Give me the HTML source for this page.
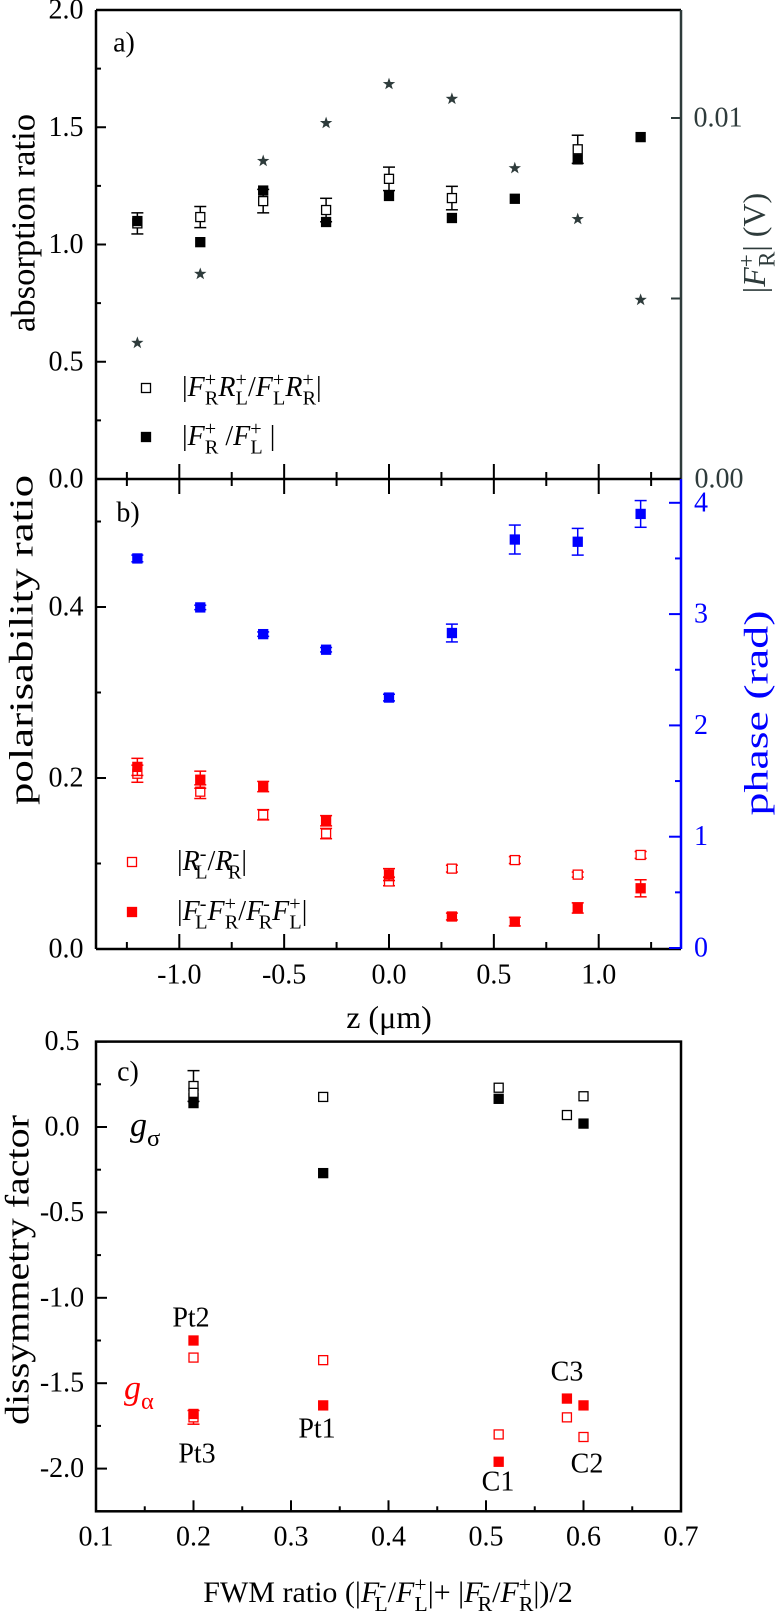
<!DOCTYPE html>
<html><head><meta charset="utf-8"><style>
html,body{margin:0;padding:0;background:#fff;}
svg, svg text, svg tspan{font-family:"Liberation Serif","Times New Roman",serif;}
</style></head><body>
<svg id="chart" width="776" height="1614" viewBox="0 0 776 1614" font-family="Liberation Serif, serif" xmlns="http://www.w3.org/2000/svg"></svg>
<script>
// ---------- data ----------
const zVals = [-1.2,-0.9,-0.6,-0.3,0,0.3,0.6,0.9,1.2];
const absOpen = [1.09,1.117,1.185,1.147,1.28,1.198,null,1.406,null];
const absOpenErr = [0.045,0.045,0.05,0.05,0.05,0.05,0,0.06,0];
const absFilled = [1.10,1.01,1.23,1.096,1.207,1.113,1.195,1.363,1.458];
const fStars = [0.00377,0.00568,0.00881,0.00986,0.01094,0.01053,0.00861,0.00720,0.00496];
const phaseVals = [3.50,3.06,2.82,2.68,2.25,2.83,3.67,3.65,3.90];
const phaseErr = [0.03,0.02,0.02,0.02,0.03,0.08,0.13,0.12,0.12];
const polFilled = [0.213,0.198,0.190,0.150,0.087,0.038,0.032,0.048,0.071];
const polFilledErr = [0.01,0.01,0.006,0.006,0.007,0.004,0.005,0.006,0.01];
const polOpen = [0.205,0.184,0.157,0.135,0.079,0.094,0.104,0.087,0.110];
const polOpenErr = [0.01,0.008,0.006,0.006,0.005,0.004,0.004,0.003,0.004];
const fwmX = [0.2,0.2,0.333,0.513,0.583,0.6];
const gSigOpen = [0.24,0.20,0.176,0.23,0.07,0.18];
const gSigFilled = [0.17,0.14,-0.27,0.165,null,0.02];
const gAlpOpen = [-1.35,-1.70,-1.365,-1.80,-1.70,-1.815];
const gAlpFilled = [-1.25,-1.68,-1.63,-1.96,-1.59,-1.63];
const sampleNames = ['Pt2','Pt3','Pt1','C1','C3','C2'];
const ticksA = ['0.0','0.5','1.0','1.5','2.0'];
const ticksB = ['0.0','0.2','0.4'];
const ticksPhase = ['0','1','2','3','4'];
const ticksC = ['-2.0','-1.5','-1.0','-0.5','0.0','0.5'];
const ticksZ = ['-1.0','-0.5','0.0','0.5','1.0'];
const ticksFwm = ['0.1','0.2','0.3','0.4','0.5','0.6','0.7'];

// ---------- scales ----------
const L=96, R=681;
const xz = z => 389 + z*209.7;
const ya = v => 479 - v*234.5;
const yaR = v => 479 - v*36100;
const yb = v => 949 - v*855;
const ybR = p => 948 - p*111.3;
const xc = v => 96 + (v-0.1)*975;
const yc = v => 1127 - v*170.8;

const svg = document.getElementById('chart');
const NS='http://www.w3.org/2000/svg';
function mk(tag, attrs, name, parent){
  const el=document.createElementNS(NS,tag);
  for(const k in attrs) el.setAttribute(k,attrs[k]);
  
  
  (parent||svg).appendChild(el);
  return el;
}
function line(x1,y1,x2,y2,stroke,w,name){return mk('line',{x1,y1,x2,y2,stroke,'stroke-width':w},name);}
function txt(x,y,s,size,opts,name){
  const t=mk('text',Object.assign({x,y,'font-size':size,'text-anchor':'middle','dominant-baseline':'central','font-family':'Liberation Serif, serif'},opts||{}),name);
  t.textContent=s; return t;
}
function sq(x,y,color,filled,name){
  return mk('rect',{x:x-4.5,y:y-4.5,width:9,height:9,fill:filled?color:'#fff',stroke:color,'stroke-width':1.3},name);
}
function err(x,y1,y2,color,name){
  const g=mk('g',{},name);
  mk('line',{x1:x,y1:y1,x2:x,y2:y2,stroke:color,'stroke-width':1.5},'error-bar-stem',g);
  mk('line',{x1:x-6,y1:y1,x2:x+6,y2:y1,stroke:color,'stroke-width':1.5},'error-bar-cap',g);
  mk('line',{x1:x-6,y1:y2,x2:x+6,y2:y2,stroke:color,'stroke-width':1.5},'error-bar-cap',g);
}
function star(x,y,color,name){
  let p=[];
  for(let i=0;i<10;i++){const r=i%2?2.6:6.5;const a=-Math.PI/2+i*Math.PI/5;p.push((x+r*Math.cos(a)).toFixed(1)+','+(y+r*Math.sin(a)).toFixed(1));}
  mk('polygon',{points:p.join(' '),fill:color},name);
}
// rich text: parts [text, style]; 'sub' after 'sup' is stacked below it
function rich(x,y,parts,size,color,anchor,name,rot){
  const attrs={x,y,'font-size':size,fill:color,'text-anchor':anchor||'start','font-family':'Liberation Serif, serif'};
  if(rot) attrs.transform=rot;
  const t=mk('text',attrs,name);
  let prevSup=false;
  parts.forEach(p=>{
    const s=document.createElementNS(NS,'tspan');
    s.textContent=p[0];
    const st=p[1]||'';
    if(st.includes('i')) s.setAttribute('font-style','italic');
    if(st.includes('sub')){
      s.setAttribute('font-size',size*0.72);
      s.setAttribute('dy',size*0.3);
      if(prevSup) s.setAttribute('dx',-size*0.4);
    } else if(st.includes('sup')){
      s.setAttribute('font-size',size*0.72);
      s.setAttribute('dy',-size*0.35);
    }
    t.appendChild(s);
    // restore baseline
    if(st.includes('sub')||st.includes('sup')){
      s.setAttribute('data-shift', st.includes('sub')?'sub':'sup');
    }
    prevSup=st.includes('sup');
  });
  // fix dy so each normal tspan returns to baseline
  let cur=0;
  Array.from(t.childNodes).forEach(s=>{
    const sh=s.getAttribute('data-shift');
    let target = sh==='sub'? size*0.3 : sh==='sup'? -size*0.35 : 0;
    s.setAttribute('dy', target-cur);
    cur=target;
    s.removeAttribute('data-shift');
  });
  return t;
}

const DG='#2e3b3b', BL='#0000ff', RD='#ff0000';

// ---------- Panel A ----------
line(L,10,R,10,'#000',2.5,'panel-a-top-axis');
line(L,10,L,479,'#000',2.5,'panel-a-left-axis');
line(R,10,R,479,DG,2.5,'panel-a-right-axis');
for(let i=0;i<ticksA.length;i++){const v=+ticksA[i];line(L,ya(v),L+10,ya(v),'#000',2,'y-tick');txt(L-30,ya(v),ticksA[i],28,{},'y-tick-label');}
for(let v=0.25;v<2;v+=0.5){line(L,ya(v),L+5,ya(v),'#000',2,'y-minor-tick');}
line(R-10,yaR(0.01),R,yaR(0.01),DG,2,'right-tick');line(R-10,yaR(0.005),R,yaR(0.005),DG,2,'right-tick');
txt(R+37,yaR(0.01),'0.01',28,{fill:DG},'right-tick-label');
txt(R+38,479,'0.00',28,{fill:DG},'right-tick-label');
txt(24,223,'absorption ratio',34,{transform:'rotate(-90 24 223)',textLength:218,lengthAdjust:'spacingAndGlyphs'},'y-axis-title-a');
rich(765,243,[['|'],['F','i'],['+','sup'],['R','sub'],['| (V)']],32,DG,'middle','y2-axis-title-a','rotate(-90 765 243)');
txt(124,43,'a)',28,{},'panel-a-label');
zVals.forEach((z,i)=>{
  if(absOpen[i]!==null){err(xz(z),ya(absOpen[i]+absOpenErr[i]),ya(absOpen[i]-absOpenErr[i]),'#000','abs-open-errorbar');}
});
zVals.forEach((z,i)=>{
  if(absOpen[i]!==null) sq(xz(z),ya(absOpen[i]),'#000',false,'abs-open-point');
  sq(xz(z),ya(absFilled[i]),'#000',true,'abs-filled-point');
  star(xz(z),yaR(fStars[i]),DG,'fr-star-point');
});
sq(146,388,'#000',false,'legend-open-marker');
rich(182,396,[['|'],['F','i'],['+','sup'],['R','sub'],['R','i'],['+','sup'],['L','sub'],['/'],['F','i'],['+','sup'],['L','sub'],['R','i'],['+','sup'],['R','sub'],['|']],28,'#000','start','legend-open-label');
sq(146,437,'#000',true,'legend-filled-marker');
rich(182,445,[['|'],['F','i'],['+','sup'],['R','sub'],[' /'],['F','i'],['+','sup'],['L','sub'],[' |']],28,'#000','start','legend-filled-label');

// ---------- shared axis between a and b ----------
line(L,479,R,479,'#000',2.5,'panel-ab-axis');
for(let z=-1.25;z<=1.26;z+=0.25){const maj=Math.abs((z*2)-Math.round(z*2))<1e-6;line(xz(z),479-(maj?15:7),xz(z),479+(maj?15:7),'#000',2,'x-tick-ab');}

// ---------- Panel B ----------
line(L,479,L,949,'#000',2.5,'panel-b-left-axis');
line(R,479,R,949,BL,2.5,'panel-b-right-axis');
line(L,949,R,949,'#000',2.5,'panel-b-bottom-axis');
for(let i=0;i<ticksB.length;i++){const v=+ticksB[i];line(L,yb(v),L+10,yb(v),'#000',2,'y-tick');txt(L-30,yb(v),ticksB[i],28,{},'y-tick-label');}
for(let v=0.1;v<0.55;v+=0.2){line(L,yb(v),L+5,yb(v),'#000',2,'y-minor-tick');}
for(let i=0;i<ticksPhase.length;i++){const p=+ticksPhase[i];line(R-12,ybR(p),R,ybR(p),BL,2,'phase-tick');txt(R+20,ybR(p),ticksPhase[i],28,{fill:BL},'phase-tick-label');}
for(let p=0.5;p<4.1;p+=1){line(R-6,ybR(p),R,ybR(p),BL,2,'phase-minor-tick');}
for(let z=-1.25;z<=1.26;z+=0.25){const maj=Math.abs((z*2)-Math.round(z*2))<1e-6;line(xz(z),949,xz(z),949-(maj?15:7),'#000',2,'x-tick');}
for(let i=0;i<ticksZ.length;i++){txt(xz(+ticksZ[i]),975,ticksZ[i],28,{},'x-tick-label');}
txt(389,1017,'z (μm)',32,{},'x-axis-title-z');
txt(22,640,'polarisability ratio',34,{transform:'rotate(-90 22 640)',textLength:330,lengthAdjust:'spacingAndGlyphs'},'y-axis-title-b');
txt(757,713,'phase (rad)',34,{fill:BL,transform:'rotate(-90 757 713)',textLength:205,lengthAdjust:'spacingAndGlyphs'},'y2-axis-title-b');
txt(128,513,'b)',28,{},'panel-b-label');
zVals.forEach((z,i)=>{
  err(xz(z),ybR(phaseVals[i]+phaseErr[i]),ybR(phaseVals[i]-phaseErr[i]),BL,'phase-errorbar');
  sq(xz(z),ybR(phaseVals[i]),BL,true,'phase-point');
  err(xz(z),yb(polOpen[i]+polOpenErr[i]),yb(polOpen[i]-polOpenErr[i]),RD,'pol-open-errorbar');
  sq(xz(z),yb(polOpen[i]),RD,false,'pol-open-point');
  err(xz(z),yb(polFilled[i]+polFilledErr[i]),yb(polFilled[i]-polFilledErr[i]),RD,'pol-filled-errorbar');
  sq(xz(z),yb(polFilled[i]),RD,true,'pol-filled-point');
});
sq(132,862,RD,false,'legend-open-marker-b');
rich(177,870,[['|'],['R','i'],['-','sup'],['L','sub'],['/'],['R','i'],['-','sup'],['R','sub'],['|']],28,'#000','start','legend-open-label-b');
sq(132,912,RD,true,'legend-filled-marker-b');
rich(177,920,[['|'],['F','i'],['-','sup'],['L','sub'],['F','i'],['+','sup'],['R','sub'],['/'],['F','i'],['-','sup'],['R','sub'],['F','i'],['+','sup'],['L','sub'],['|']],28,'#000','start','legend-filled-label-b');

// ---------- Panel C ----------
mk('rect',{x:L,y:yc(0.5),width:R-L,height:yc(-2.25)-yc(0.5),fill:'none',stroke:'#000','stroke-width':2.5},'panel-c-frame');
for(let i=0;i<ticksC.length;i++){const v=+ticksC[i];line(L,yc(v),L+11,yc(v),'#000',2,'y-tick');txt(L-34,yc(v),ticksC[i],28,{},'y-tick-label');}
for(let v=-2.25;v<0.5;v+=0.5){line(L,yc(v),L+5,yc(v),'#000',2,'y-minor-tick');}
for(let i=0;i<ticksFwm.length;i++){const v=+ticksFwm[i];line(xc(v),yc(-2.25),xc(v),yc(-2.25)-11,'#000',2,'x-tick');txt(xc(v),1537,ticksFwm[i],28,{},'x-tick-label');}
for(let v=0.15;v<0.7;v+=0.1){line(xc(v),yc(-2.25),xc(v),yc(-2.25)-5,'#000',2,'x-minor-tick');}
rich(388,1602,[['FWM ratio (|'],['F','i'],['-','sup'],['L','sub'],['/'],['F','i'],['+','sup'],['L','sub'],['|+ |'],['F','i'],['-','sup'],['R','sub'],['/'],['F','i'],['+','sup'],['R','sub'],['|)/2']],30,'#000','middle','x-axis-title-c');
txt(18,1270,'dissymmetry factor',34,{transform:'rotate(-90 18 1270)',textLength:310,lengthAdjust:'spacingAndGlyphs'},'y-axis-title-c');
txt(128,1072,'c)',28,{},'panel-c-label');
rich(130,1136,[['g','i'],['σ','sub']],34,'#000','start','g-sigma-label');
rich(124,1399,[['g','i'],['α','sub']],34,RD,'start','g-alpha-label');
err(xc(0.2),yc(0.33),yc(0.15),'#000','gsig-errorbar');
err(xc(0.2),yc(-1.66),yc(-1.74),RD,'galp-errorbar');
fwmX.forEach((x,i)=>{
  sq(xc(x),yc(gSigOpen[i]),'#000',false,'gsigma-open-point');
  if(gSigFilled[i]!==null) sq(xc(x),yc(gSigFilled[i]),'#000',true,'gsigma-filled-point');
  sq(xc(x),yc(gAlpOpen[i]),RD,false,'galpha-open-point');
  sq(xc(x),yc(gAlpFilled[i]),RD,true,'galpha-filled-point');
});
const labelPos=[[191,1318],[197,1454],[317,1429],[498,1482],[567,1372],[587,1464]];
sampleNames.forEach((s,i)=>{txt(labelPos[i][0],labelPos[i][1],s,28,{},'sample-label-'+s.toLowerCase());});
</script>
</body></html>
